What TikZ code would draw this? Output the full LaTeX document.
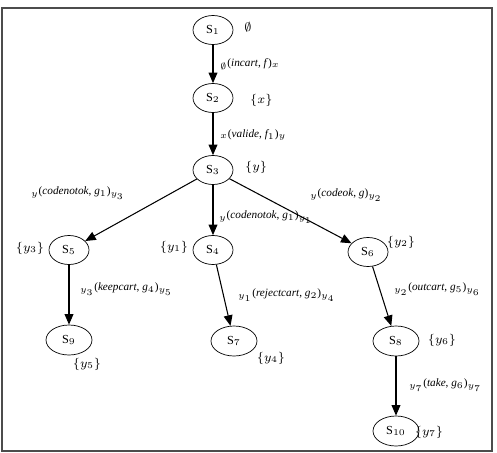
\documentclass[tikz,border=0pt]{standalone}
\usepackage{fontspec}
\setmainfont{Liberation Serif}
\usetikzlibrary{
  arrows.meta,
  shapes.geometric,
}
\tikzset{
  >={Triangle[length=6pt,width=5pt]},
  statenode/.style={draw, ellipse, minimum width=0.8cm, minimum height=0.58cm,
    inner sep=0pt, font=\fontsize{7}{8}\selectfont},
  widestate/.style={statenode, minimum width=0.92cm, minimum height=0.6cm},
  trans/.style={->, semithick},
  lbl/.style={font=\fontsize{7.2}{8}\selectfont, inner sep=1pt},
  lblw/.style={font=\fontsize{6.4}{8}\selectfont, inner sep=1pt, anchor=west},
}
% transition label: pre-set, action, guard, post-set
\newcommand{\trlab}[4]{${}_{#1}$(\textit{#2}, \textit{#3})${}_{#4}$}

\begin{document}
\begin{tikzpicture}[x=0.02cm, y=-0.02cm]
  \useasboundingbox (0,0) rectangle (497,453);
  \draw [black!70, line width=1.1pt] (2,8) rectangle (492,451);

  % states
  \node [statenode] at (213,30) (s1) {S$_1$};
  \node [statenode] at (213,98) (s2) {S$_2$};
  \node [statenode] at (213,170) (s3) {S$_3$};
  \node [statenode] at (69,250) (s5) {S$_5$};
  \node [statenode] at (213,250) (s4) {S$_4$};
  \node [statenode] at (368,252) (s6) {S$_6$};
  \node [widestate] at (69,340) (s9) {S$_9$};
  \node [widestate] at (234,341) (s7) {S$_7$};
  \node [widestate] at (396,341) (s8) {S$_8$};
  \node [widestate] at (396,431) (s10) {S$_{10}$};

  % transitions
  \draw [trans] (s1) -- (s2);
  \draw [trans] (s2) -- (s3);
  \draw [trans] (s3) -- (s5);
  \draw [trans] (s3) -- (s4);
  \draw [trans] (s3) -- (s6);
  \draw [trans] (s5) -- (s9);
  \draw [trans] (s4) -- (s7);
  \draw [trans] (s6) -- (s8);
  \draw [trans] (s8) -- (s10);

  % transition labels
  \node [lblw] at (218,64) (t12) {\trlab{\emptyset}{incart}{f}{x}};
  \node [lblw] at (218,135) (t23) {\trlab{x}{valide}{f$_1$}{y}};
  \node [lblw] at (29,193) (t35) {\trlab{y}{codenotok}{g$_1$}{y_3}};
  \node [lblw] at (217,217) (t34) {\trlab{y}{codenotok}{g$_1$}{y_1}};
  \node [lblw] at (308,195) (t36) {\trlab{y}{codeok}{g}{y_2}};
  \node [lblw] at (78,289) (t59) {\trlab{y_3}{keepcart}{g$_4$}{y_5}};
  \node [lblw] at (236,295) (t47) {\trlab{y_1}{rejectcart}{g$_2$}{y_4}};
  \node [lblw] at (392,289) (t68) {\trlab{y_2}{outcart}{g$_5$}{y_6}};
  \node [lblw] at (407,385) (t810) {\trlab{y_7}{take}{g$_6$}{y_7}};

  % variable sets
  \node [lbl] at (248,27) (v1) {$\emptyset$};
  \node [lbl, anchor=west] at (248,100) (v2) {$\{x\}$};
  \node [lbl, anchor=west] at (243,167) (v3) {$\{y\}$};
  \node [lbl] at (30,248) (v5) {$\{y_3\}$};
  \node [lbl] at (174,247) (v4) {$\{y_1\}$};
  \node [lbl] at (401,242) (v6) {$\{y_2\}$};
  \node [lbl] at (87,364) (v9) {$\{y_5\}$};
  \node [lbl] at (271,358) (v7) {$\{y_4\}$};
  \node [lbl] at (442,340) (v8) {$\{y_6\}$};
  \node [lbl] at (429,432) (v10) {$\{y_7\}$};
\end{tikzpicture}
\end{document}
